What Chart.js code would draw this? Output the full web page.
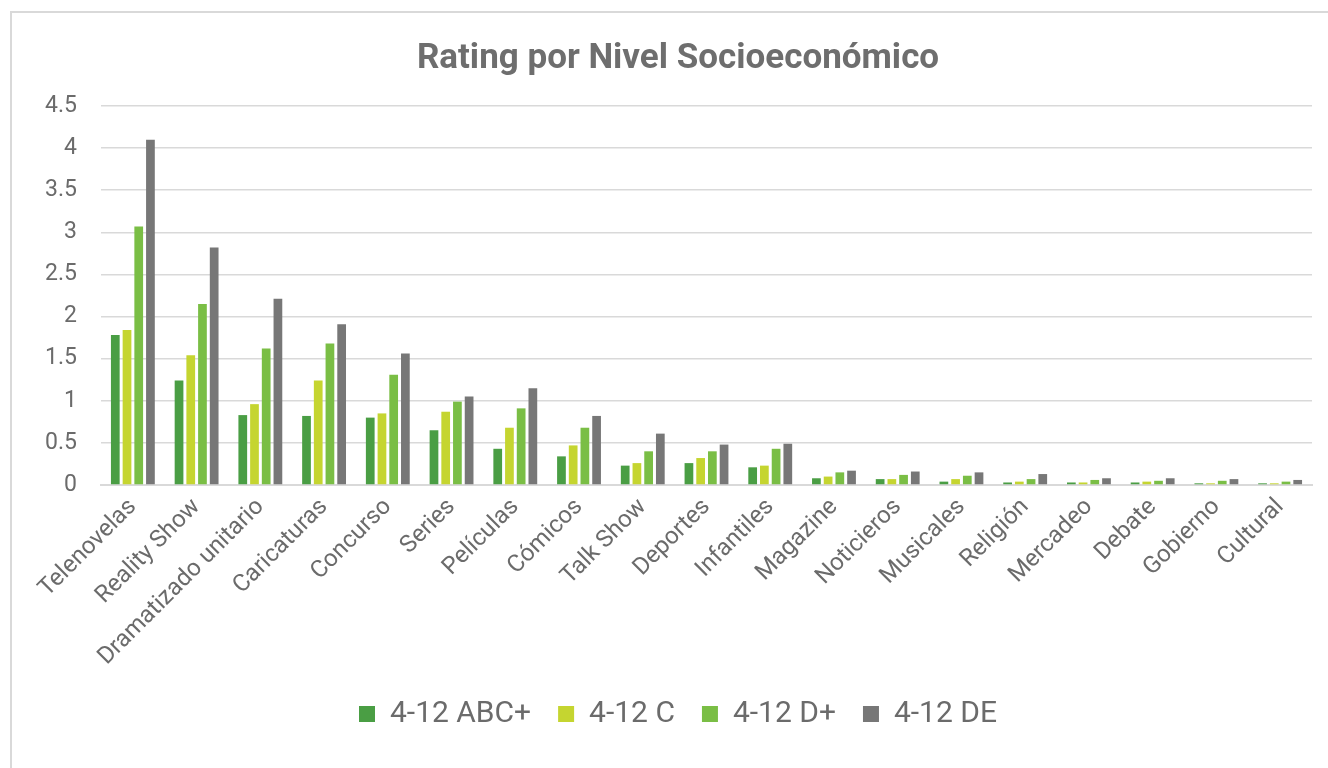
<!DOCTYPE html>
<html>
<head>
<meta charset="utf-8">
<script src="https://cdn.jsdelivr.net/npm/chart.js@4"></script>
<style>
  html, body { margin: 0; padding: 0; background: #fff; overflow: hidden; width: 1328px; height: 768px; }
  .frame {
    position: absolute; left: 10px; top: 11px;
    width: 1450px; height: 800px;
    border: 2px solid #d9d9d9;
  }
  /* the chart box is wider than the window; its right edge is cut off */
  .wrap { position: absolute; left: 0; top: 0; width: 1400px; height: 768px; }
</style>
</head>
<body>
<div class="frame"></div>
<div class="wrap"><canvas id="chart"></canvas></div>
<script>
// Géneros de programación
const categories = [
  'Telenovelas', 'Reality Show', 'Dramatizado unitario', 'Caricaturas', 'Concurso',
  'Series', 'Películas', 'Cómicos', 'Talk Show', 'Deportes', 'Infantiles',
  'Magazine', 'Noticieros', 'Musicales', 'Religión', 'Mercadeo', 'Debate',
  'Gobierno', 'Cultural'
];

// Rating por nivel socioeconómico
const abcPlus = [1.78, 1.24, 0.83, 0.82, 0.80, 0.65, 0.43, 0.34, 0.23, 0.26, 0.21, 0.08, 0.07, 0.04, 0.03, 0.03, 0.03, 0.02, 0.02];
const nivelC  = [1.84, 1.54, 0.96, 1.24, 0.85, 0.87, 0.68, 0.47, 0.26, 0.32, 0.23, 0.10, 0.07, 0.07, 0.04, 0.03, 0.04, 0.02, 0.02];
const dPlus   = [3.07, 2.15, 1.62, 1.68, 1.31, 0.99, 0.91, 0.68, 0.40, 0.40, 0.43, 0.15, 0.12, 0.11, 0.07, 0.06, 0.05, 0.05, 0.04];
const nivelDE = [4.10, 2.82, 2.21, 1.91, 1.56, 1.05, 1.15, 0.82, 0.61, 0.48, 0.49, 0.17, 0.16, 0.15, 0.13, 0.08, 0.08, 0.07, 0.06];

const seriesLabels = ['4-12 ABC+', '4-12 C', '4-12 D+', '4-12 DE'];
const seriesColors = ['#4a9e44', '#c5d530', '#7abe45', '#777777'];

const yTicks = [0, 0.5, 1, 1.5, 2, 2.5, 3, 3.5, 4, 4.5];

const font = "Roboto, 'Open Sans', sans-serif";
const textGray = '#6b6b6b';
const gridGray = '#d9d9d9';

function makeDataset(i, values) {
  return {
    label: seriesLabels[i],
    data: values,
    backgroundColor: seriesColors[i],
    borderWidth: 0,
    categoryPercentage: 0.735,
    barPercentage: 0.745
  };
}

new Chart(document.getElementById('chart'), {
  type: 'bar',
  data: {
    labels: categories,
    datasets: [
      makeDataset(0, abcPlus),
      makeDataset(1, nivelC),
      makeDataset(2, dPlus),
      makeDataset(3, nivelDE)
    ]
  },
  options: {
    responsive: true,
    maintainAspectRatio: false,
    animation: false,
    layout: { padding: { left: 44, right: 88, top: 0, bottom: 29 } },
    scales: {
      x: {
        grid: { display: false },
        border: { color: gridGray, width: 2 },
        ticks: {
          color: textGray,
          font: { family: font, size: 24 },
          minRotation: 45,
          maxRotation: 45,
          autoSkip: false,
          padding: 0
        },
        afterFit: function (scale) { scale.height = 187; }
      },
      y: {
        min: 0,
        max: 4.5,
        afterBuildTicks: function (scale) {
          scale.ticks = yTicks.map(function (v) { return { value: v }; });
        },
        grid: { color: gridGray, lineWidth: 1.5, drawTicks: false },
        border: { display: false },
        ticks: {
          color: textGray,
          font: { family: font, size: 23 },
          padding: 24,
          callback: function (value) { return String(value); }
        },
        afterFit: function (scale) { scale.width = 57; }
      }
    },
    plugins: {
      title: {
        display: true,
        text: 'Rating por Nivel Socioeconómico',
        color: '#6e6e6e',
        font: { family: font, size: 35, weight: 'bold' },
        padding: { top: 38, bottom: 26 }
      },
      legend: {
        position: 'bottom',
        labels: {
          color: textGray,
          font: { family: font, size: 30 },
          boxWidth: 16,
          boxHeight: 16,
          padding: 27
        }
      },
      tooltip: { enabled: false }
    }
  }
});
</script>
</body>
</html>
